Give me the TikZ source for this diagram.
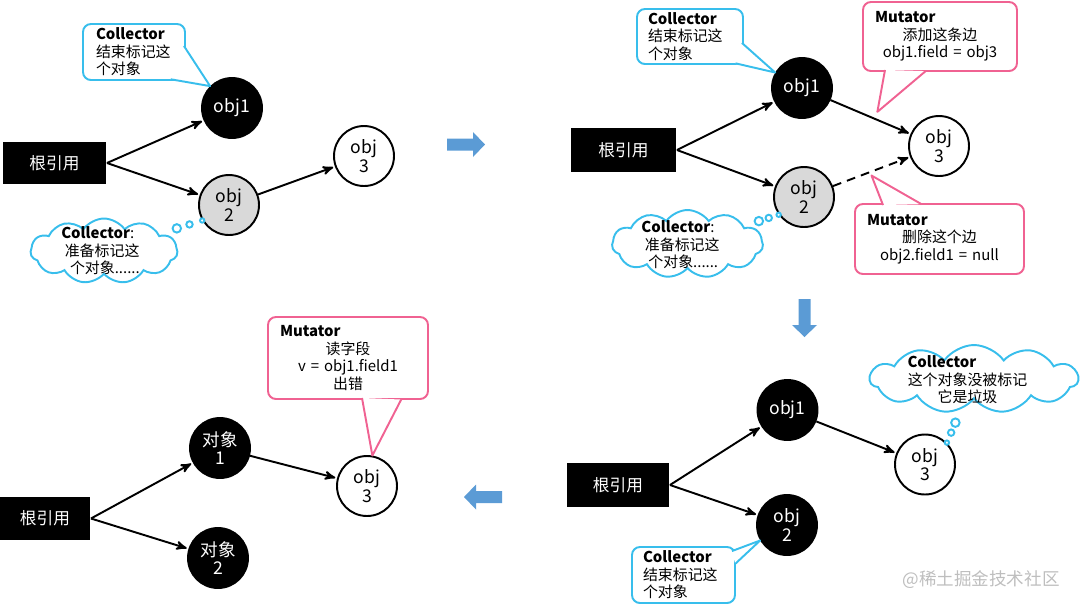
\documentclass[tikz,border=0pt]{standalone}
\usepackage{fontspec}
\setmainfont{Noto Sans CJK SC}
\usepackage{tikz}
\usetikzlibrary{arrows,calc,shapes.callouts,shapes.symbols}

\definecolor{gccyan}{RGB}{56,190,236}
\definecolor{gcpink}{RGB}{240,98,146}
\definecolor{gcblue}{RGB}{91,155,213}
\definecolor{gcgrey}{RGB}{217,217,217}
\definecolor{gcmark}{RGB}{190,190,190}

\newcommand\objfont{\fontsize{10}{10.5}\selectfont}
\newcommand\rootfont{\fontsize{9.5}{11}\selectfont}
\newcommand\notefont{\fontsize{8.5}{10}\selectfont}

\tikzset{
  obj/.style={circle,draw=black,minimum size=1.2cm,inner sep=0pt,align=center,font=\objfont},
  marked/.style={obj,fill=black,text=white},
  grey/.style={obj,fill=gcgrey},
  unmarked/.style={obj,fill=white},
  root/.style={fill=black,text=white,inner sep=0pt,font=\rootfont},
  note/.style={rectangle,fill=white,rounded corners=4.5pt,inner ysep=.05cm,font=\notefont},
  collnote/.style={note,draw=gccyan,inner xsep=.22cm,align=left},
  mutnote/.style={note,draw=gcpink,inner xsep=.24cm,align=center},
  colltail/.style={fill=white,draw=gccyan,line join=round},
  muttail/.style={fill=white,draw=gcpink,line join=round},
  thought/.style={cloud callout,draw=gccyan,fill=white,cloud puffs=11,cloud puff arc=110,
    aspect=2.2,inner sep=0pt,callout pointer start size=6pt and 6pt,
    callout pointer end size=2.5pt and 2.5pt,callout pointer segments=3},
  thinktext/.style={font=\notefont,align=left,inner sep=0pt},
  flow/.pic={\fill[gcblue] (0,-6) -- (26,-6) -- (26,-12.5) -- (38,0) -- (26,12.5) -- (26,6) -- (0,6) -- cycle;}
}

\begin{document}
\begin{tikzpicture}[>=stealth',shorten >=1pt,line width=1.1pt,x=0.02cm,y=-0.02cm]
  \useasboundingbox (0,0) rectangle (1080,610);

  % before
  \node[root,minimum width=2.06cm,minimum height=.84cm] (R1) at (54.5,163) {根引用};
  \node[marked] (A1) at (232,108) {obj1};
  \node[grey] (B1) at (229,205) {obj\\2};
  \node[unmarked] (C1) at (364,156) {obj\\3};
\path[->] (R1.east) edge (A1)
	  (R1.east) edge (B1)
	  (B1) edge (C1);
  \node[collnote,text width=1.52cm,inner xsep=.26cm,minimum width=2.04cm,minimum height=1.12cm]
    (S1) at (134,52) {\textbf{Collector}\\结束标记这\\个对象};
  \filldraw[colltail] ($(S1.south east)+(-2,-35)$) -- (A1.135) -- ($(S1.south east)+(-17,-2)$);
  \node[thought,minimum width=2.94cm,minimum height=1.3cm,
    callout absolute pointer={(B1.210)}] (T1) at (104,251) {};
  \node[thinktext] (t1) at (100.5,251) {\textbf{Collector}:\\\hspace{2pt}准备标记这\\\hspace{5pt}个对象......};

  \pic at (447,144.5) {flow};

  % mutator changes edges
  \node[root,minimum width=2.1cm,minimum height=.88cm] (R2) at (623.5,150) {根引用};
  \node[marked] (A2) at (802,88) {obj1};
  \node[grey] (B2) at (804,197) {obj\\2};
  \node[unmarked] (C2) at (939,146) {obj\\3};
\path[->] (R2.east) edge (A2)
	  (R2.east) edge (B2)
	  (A2) edge (C2)
	  (B2) edge[dash pattern=on 5pt off 3.5pt] (C2);
  \node[collnote,text width=1.68cm,minimum width=2.12cm,minimum height=1.1cm]
    (S2) at (690,36.5) {\textbf{Collector}\\结束标记这\\个对象};
  \filldraw[colltail] ($(S2.south east)+(-2,-22)$) -- (A2.150) -- ($(S2.south east)+(-10,-2)$);
  \node[mutnote,text width=2.6cm,minimum width=3.08cm,minimum height=1.38cm] (M2) at (940,36.5)
    {\textbf{Mutator}\hfill\null\\添加这条边\\obj1.field = obj3};
  \filldraw[muttail] ($(M2.south)+(-55,-2)$) -- ($(A2)!0.55!(C2)+(0,-8)$) -- ($(M2.south)+(-13,-2)$);
  \node[mutnote,text width=2.9cm,minimum width=3.38cm,minimum height=1.4cm] (N2) at (939.5,239)
    {\textbf{Mutator}\hfill\null\\删除这个边\\obj2.field1 = null};
  \filldraw[muttail] ($(N2.north)+(-56.5,2)$) -- ($(B2)!0.5!(C2)+(0,4)$) -- ($(N2.north)+(-16.5,2)$);
  \node[thought,minimum width=3.02cm,minimum height=1.36cm,
    callout absolute pointer={(B2.215)}] (T2) at (687.5,244) {};
  \node[thinktext] (t2) at (680.5,245) {\textbf{Collector}:\\\hspace{2pt}准备标记这\\\hspace{4pt}个对象......};

  \pic[rotate=-90] at (804.5,299) {flow};

  % collector finishes
  \node[root,minimum width=2.04cm,minimum height=.88cm] (R3) at (618,485) {根引用};
  \node[marked] (A3) at (787.5,410) {obj1};
  \node[marked] (B3) at (787,525) {obj\\2};
  \node[unmarked] (C3) at (925,464.5) {obj\\3};
\path[->] (R3.east) edge (A3)
	  (R3.east) edge (B3)
	  (A3) edge (C3);
  \node[thought,minimum width=4.16cm,minimum height=1.36cm,
    callout absolute pointer={(C3.45)}] (T3) at (974,379) {};
  \node[thinktext,align=center,text width=2.4cm] (t3) at (967.5,380)
    {\textbf{Collector}\hfill\null\\这个对象没被标记\\它是垃圾};
  \node[collnote,text width=1.62cm,minimum width=2.06cm,minimum height=1.12cm]
    (S3) at (683.5,575) {\textbf{Collector}\\结束标记这\\个对象};
  \filldraw[colltail] ($(S3.north east)+(-4,5)$) -- (B3.210) -- ($(S3.north east)+(-2,19)$);
  \node[text=gcmark,font=\fontsize{10}{11}\selectfont] (wm) at (981,580) {@稀土掘金技术社区};

  \pic[rotate=180] at (502,497) {flow};

  % reading the lost field
  \node[root,minimum width=1.8cm,minimum height=.86cm] (R4) at (45,518.5) {根引用};
  \node[marked] (A4) at (220,448) {对象\\1};
  \node[marked] (B4) at (218,558) {对象\\2};
  \node[unmarked] (C4) at (367,486) {obj\\3};
\path[->] (R4.east) edge (A4)
	  (R4.east) edge (B4)
	  (A4) edge (C4);
  \node[mutnote,text width=2.72cm,minimum width=3.2cm,minimum height=1.64cm] (M4) at (348,358)
    {\textbf{Mutator}\hfill\null\\读字段\\v = obj1.field1\\出错};
  \filldraw[muttail] ($(M4.south)+(14,-2)$) -- (C4.80) -- ($(M4.south)+(54,-2)$);
\end{tikzpicture}
\end{document}
